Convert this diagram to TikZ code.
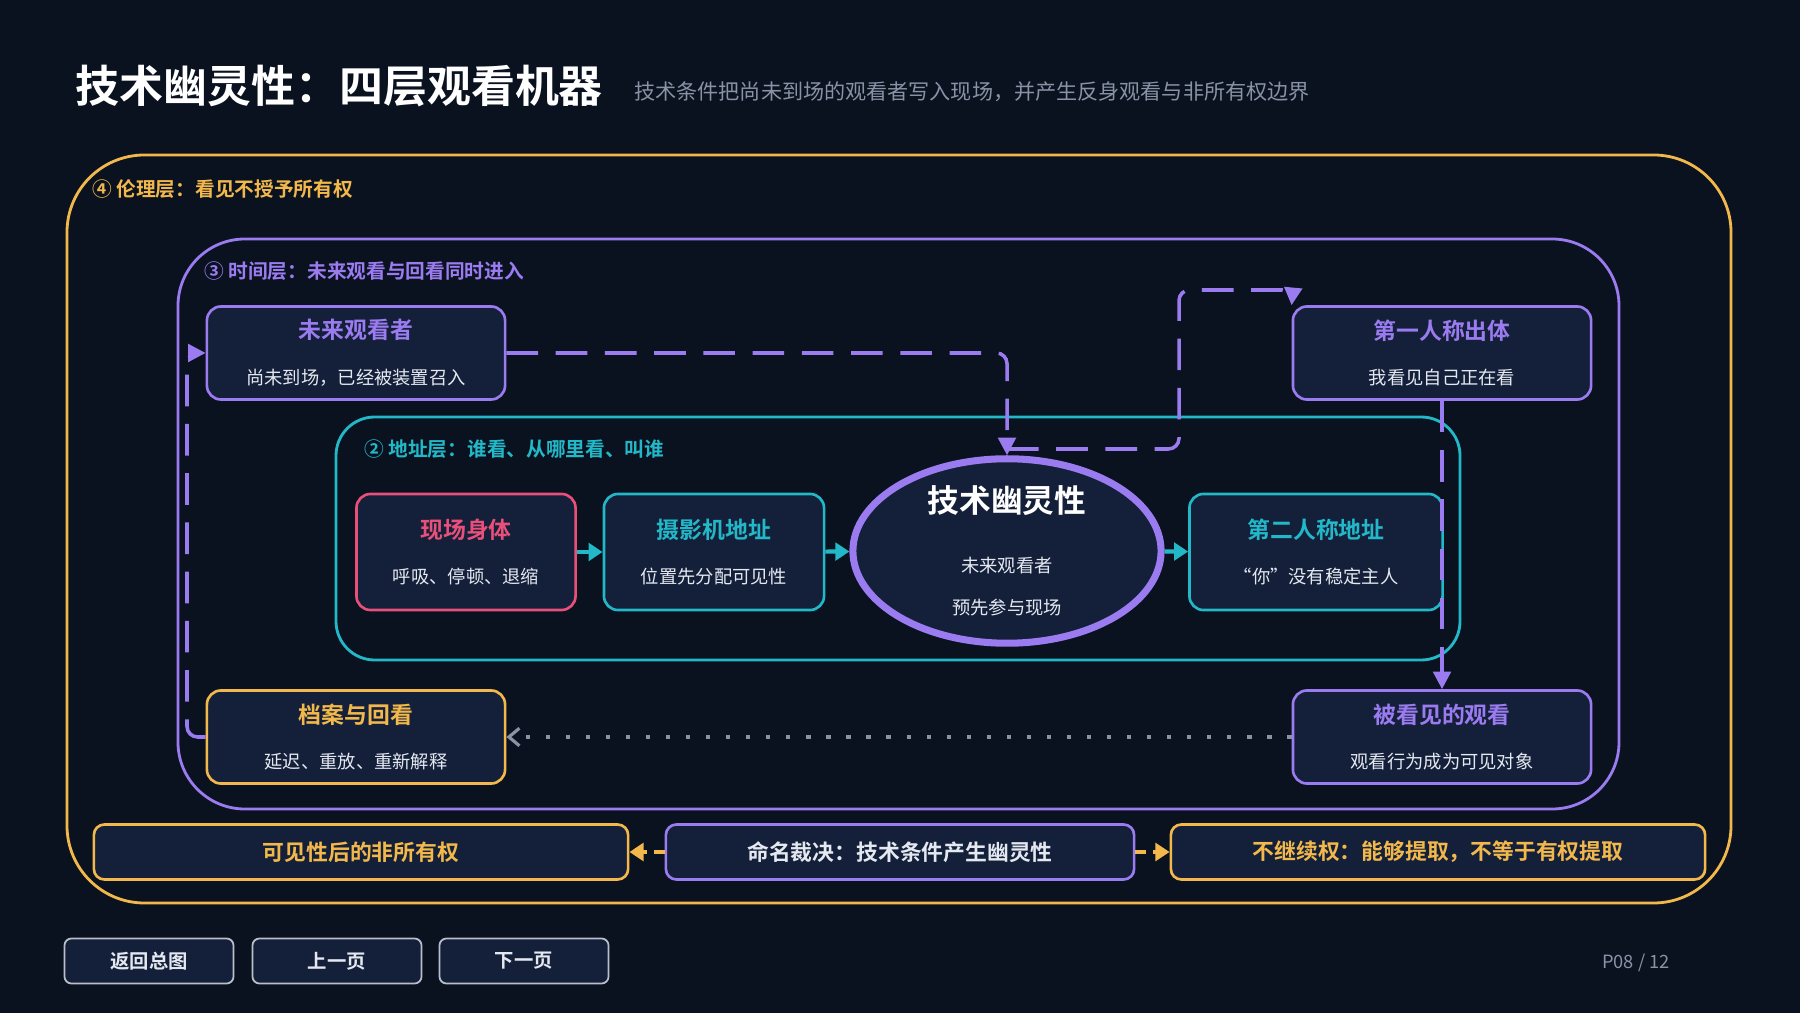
\documentclass[tikz,border=0pt]{standalone}
\usepackage{fontspec}
\setmainfont{Noto Sans CJK SC}[BoldFont={Noto Sans CJK SC Bold}]
\usetikzlibrary{arrows.meta,shapes.geometric}
\definecolor{bgc}{HTML}{0A1220}
\definecolor{boxc}{HTML}{14203A}
\definecolor{yel}{HTML}{F2B84B}
\definecolor{pur}{HTML}{9B7BF0}
\definecolor{cya}{HTML}{22B8C8}
\definecolor{pnk}{HTML}{E8507A}
\definecolor{txt}{HTML}{E4E8F0}
\definecolor{gry}{HTML}{8A93A6}
\newcommand{\cardtext}[3]{{\fontsize{6.5}{8}\selectfont\bfseries\color{#1}#2}\\[1pt]{\fontsize{5.2}{7}\selectfont\color{txt}#3}}
\tikzset{
  card/.style={draw=#1,line width=0.75pt,fill=boxc,rounded corners=4pt,minimum width=2.98cm,minimum height=0.93cm,align=center,inner sep=0pt},
  bar/.style={draw=#1,line width=0.75pt,fill=boxc,rounded corners=3pt,minimum height=0.55cm,font=\fontsize{6.2}{7}\selectfont\bfseries,inner sep=0pt},
  btn/.style={draw=gry!60,line width=0.5pt,fill=boxc,rounded corners=2pt,minimum width=1.69cm,minimum height=0.45cm,font=\fontsize{5.5}{7}\selectfont\bfseries,text=txt,inner sep=0pt},
  lyr/.style={font=\fontsize{5.6}{7}\selectfont\bfseries,anchor=west,text=#1},
  tip/.style={-{Triangle[length=5pt,width=5pt]}},
}
\begin{document}
\begin{tikzpicture}[x=0.01cm,y=-0.01cm]
\fill[bgc] (0,0) rectangle (1800,1013);
\useasboundingbox (0,0) rectangle (1800,1013);
% title
\node[anchor=west,font=\fontsize{12.5}{14}\selectfont\bfseries,text=white] (title) at (63,86) {技术幽灵性：四层观看机器};
\node[anchor=west,font=\fontsize{6}{7}\selectfont,text=gry] (subtitle) at (622,92) {技术条件把尚未到场的观看者写入现场，并产生反身观看与非所有权边界};
% layers
\draw[yel,line width=0.8pt,rounded corners=22pt] (67,155) rectangle (1731,903);
\node[lyr=yel] (l4) at (80,189) {④ 伦理层：看见不授予所有权};
\draw[pur,line width=0.8pt,rounded corners=19pt] (178,239) rectangle (1619,809);
\node[lyr=pur] (l3) at (192,271) {③ 时间层：未来观看与回看同时进入};
\draw[cya,line width=0.8pt,rounded corners=11pt] (336,417) rectangle (1460,660);
\node[lyr=cya] (l2) at (352,449) {② 地址层：谁看、从哪里看、叫谁};
% nodes
\node[card=pur] (future) at (356,353) {\cardtext{pur}{未来观看者}{尚未到场，已经被装置召入}};
\node[card=pur] (first) at (1442,353) {\cardtext{pur}{第一人称出体}{我看见自己正在看}};
\node[card=pnk,minimum width=2.19cm,minimum height=1.16cm] (body) at (466,552) {\cardtext{pnk}{现场身体}{呼吸、停顿、退缩}};
\node[card=cya,minimum width=2.2cm,minimum height=1.16cm] (camera) at (714,552) {\cardtext{cya}{摄影机地址}{位置先分配可见性}};
\node[ellipse,draw=pur,line width=2pt,fill=boxc,minimum width=3.08cm,minimum height=1.66cm,align=center,inner sep=0pt] (ghost) at (1007,551)
  {{\fontsize{9}{10}\selectfont\bfseries\color{white}技术幽灵性}\\[5pt]{\fontsize{5.2}{7}\selectfont\color{txt}未来观看者}\\{\fontsize{5.2}{7}\selectfont\color{txt}预先参与现场}};
\node[card=cya,minimum width=2.53cm,minimum height=1.16cm] (second) at (1316,552) {\cardtext{cya}{第二人称地址}{“你”没有稳定主人}};
\node[card=yel] (archive) at (356,737) {\cardtext{yel}{档案与回看}{延迟、重放、重新解释}};
\node[card=pur] (seen) at (1442,737) {\cardtext{pur}{被看见的观看}{观看行为成为可见对象}};
% bottom bars
\node[bar=yel,minimum width=5.34cm,text=yel] (nonown) at (361,852) {可见性后的非所有权};
\node[bar=pur,minimum width=4.68cm,text=txt] (verdict) at (900,852) {命名裁决：技术条件产生幽灵性};
\node[bar=yel,minimum width=5.34cm,text=yel] (noinherit) at (1438,852) {不继续权：能够提取，不等于有权提取};
% buttons
\node[btn] (home) at (149,961) {返回总图};
\node[btn] (prev) at (337,961) {上一页};
\node[btn] (next) at (524,961) {下一页};
\node[font=\fontsize{5.2}{6}\selectfont,text=gry] (page) at (1636,963) {P08 / 12};
% connectors
\coordinate (meet) at (1007,449);
\coordinate (turn) at (1179,449);
\coordinate (top) at (1293,290);
\coordinate (back) at (187,737);
\draw[pur,line width=1pt,dash pattern=on 9pt off 5pt,rounded corners=3pt,tip] (future.east) -| (ghost.north);
\draw[pur,line width=1pt,dash pattern=on 9pt off 5pt,rounded corners=3pt,tip] (meet) -- (turn) |- (top) -- (first.north west);
\draw[pur,line width=1pt,dash pattern=on 9pt off 5pt,tip] (first.south) -- (seen.north);
\draw[gry,line width=0.9pt,dash pattern=on 1.2pt off 4.5pt,-{Straight Barb[length=3pt,width=5pt]}] (seen.west) -- (archive.east);
\draw[pur,line width=1pt,dash pattern=on 9pt off 5pt,rounded corners=3pt,tip] (archive.west) -- (back) |- (future.west);
\draw[cya,line width=1.2pt,-{Triangle[length=4pt,width=5pt]}] (body) -- (camera);
\draw[cya,line width=1.2pt,-{Triangle[length=4pt,width=5pt]}] (camera) -- (ghost);
\draw[cya,line width=1.2pt,-{Triangle[length=4pt,width=5pt]}] (ghost) -- (second);
\draw[yel,line width=1pt,dash pattern=on 3pt off 2pt,-{Triangle[length=4pt,width=5pt]}] (verdict) -- (nonown);
\draw[yel,line width=1pt,dash pattern=on 3pt off 2pt,-{Triangle[length=4pt,width=5pt]}] (verdict) -- (noinherit);
\end{tikzpicture}
\end{document}
